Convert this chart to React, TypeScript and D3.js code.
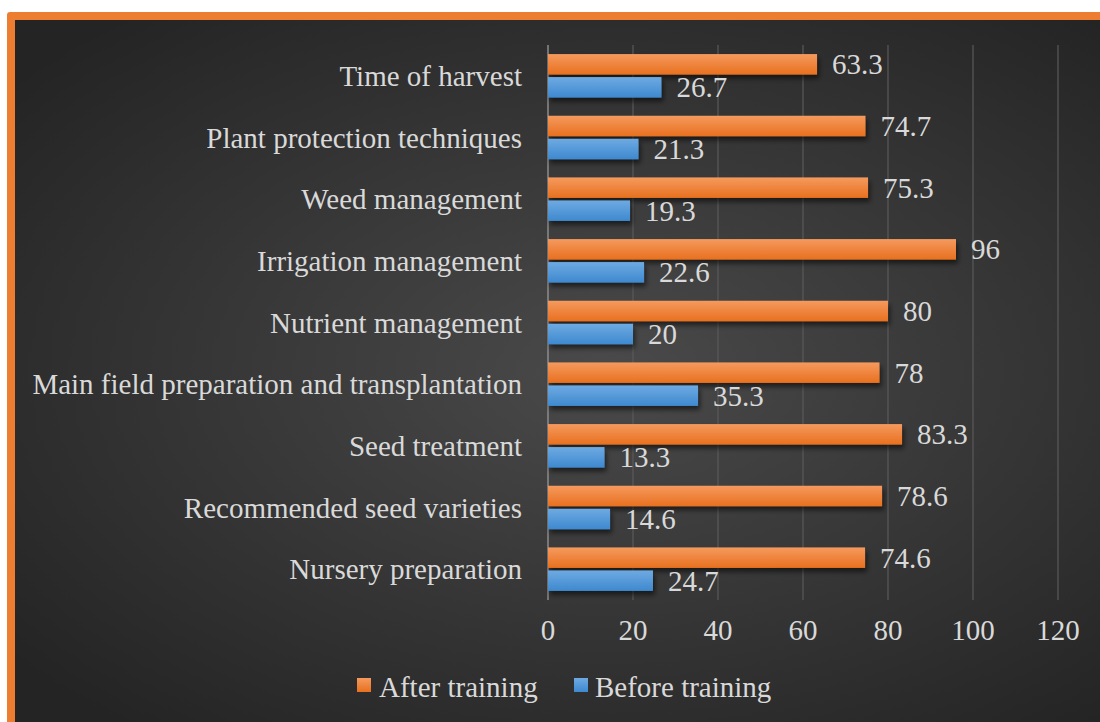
import React from "react";
import * as d3 from "d3";

const categories = [
  "Nursery preparation",
  "Recommended seed varieties",
  "Seed treatment",
  "Main field preparation and transplantation",
  "Nutrient management",
  "Irrigation management",
  "Weed management",
  "Plant protection techniques",
  "Time of harvest",
];
const afterTraining = [74.6, 78.6, 83.3, 78, 80, 96, 75.3, 74.7, 63.3];
const beforeTraining = [24.7, 14.6, 13.3, 35.3, 20, 22.6, 19.3, 21.3, 26.7];
const xTicks = [0, 20, 40, 60, 80, 100, 120];
const seriesNames = ["After training", "Before training"];

const W = 1100;
const H = 722;
const FONT = "'Liberation Serif', 'Times New Roman', serif";
const TEXT = "#d9d9d9";
const FS = 29;

export default function App() {
  const x = d3.scaleLinear().domain([0, 120]).range([548, 1058]);
  const y = d3
    .scaleBand<string>()
    .domain([...categories].reverse())
    .range([45, 600])
    .paddingInner(0)
    .paddingOuter(0);
  const bw = y.bandwidth();
  const barH = 20.5;
  const gap = 2.5;
  const groupH = barH * 2 + gap;
  const pad = (bw - groupH) / 2;

  return (
    <svg
      width={W}
      height={H}
      style={{ position: "absolute", left: 0, top: 0, display: "block" }}
      fontFamily={FONT}
    >
      <defs>
        <radialGradient id="bg" cx="50%" cy="50%" r="65%" gradientUnits="objectBoundingBox">
          <stop offset="0%" stopColor="#4a4a4a" />
          <stop offset="100%" stopColor="#242424" />
        </radialGradient>
        <linearGradient id="gOrange" x1="0" y1="0" x2="0" y2="1">
          <stop offset="0%" stopColor="#f59a5e" />
          <stop offset="100%" stopColor="#e8701f" />
        </linearGradient>
        <linearGradient id="gBlue" x1="0" y1="0" x2="0" y2="1">
          <stop offset="0%" stopColor="#6eaae2" />
          <stop offset="100%" stopColor="#3e89cf" />
        </linearGradient>
        <filter id="shadow" x="-10%" y="-30%" width="130%" height="190%">
          <feGaussianBlur in="SourceAlpha" stdDeviation="2.5" />
          <feOffset dx="2" dy="4" result="b" />
          <feComponentTransfer>
            <feFuncA type="linear" slope="0.55" />
          </feComponentTransfer>
          <feMerge>
            <feMergeNode />
            <feMergeNode in="SourceGraphic" />
          </feMerge>
        </filter>
      </defs>
      <rect x={0} y={0} width={W} height={H} fill="#ffffff" />
      <rect x={7} y={12} width={1200} height={800} rx={3} fill="#ed7d31" />
      <rect x={15} y={20} width={1185} height={702} fill="url(#bg)" />

      {/* gridlines */}
      {xTicks.slice(1).map((t) => (
        <line
          key={t}
          x1={x(t)}
          x2={x(t)}
          y1={45}
          y2={600}
          stroke="#5a5a5a"
          strokeWidth={1.2}
        />
      ))}
      <line x1={x(0)} x2={x(0)} y1={45} y2={600} stroke="#8c8c8c" strokeWidth={1.5} />

      {/* bars */}
      {categories.map((c, i) => {
        const y0 = (y(c) as number) + pad;
        return (
          <g key={c}>
            <rect
              x={x(0)}
              y={y0}
              width={x(afterTraining[i]) - x(0)}
              height={barH}
              fill="url(#gOrange)"
              filter="url(#shadow)"
            />
            <rect
              x={x(0)}
              y={y0 + barH + gap}
              width={x(beforeTraining[i]) - x(0)}
              height={barH}
              fill="url(#gBlue)"
              filter="url(#shadow)"
            />
            <text
              x={x(afterTraining[i]) + 15}
              y={y0 + barH / 2}
              dy="0.35em"
              fill={TEXT}
              fontSize={FS}
            >
              {afterTraining[i]}
            </text>
            <text
              x={x(beforeTraining[i]) + 15}
              y={y0 + barH + gap + barH / 2}
              dy="0.35em"
              fill={TEXT}
              fontSize={FS}
            >
              {beforeTraining[i]}
            </text>
            <text
              x={522}
              y={(y(c) as number) + bw / 2}
              dy="0.35em"
              textAnchor="end"
              fill={TEXT}
              fontSize={FS}
            >
              {c}
            </text>
          </g>
        );
      })}

      {/* x tick labels */}
      {xTicks.map((t) => (
        <text
          key={t}
          x={x(t)}
          y={630}
          dy="0.35em"
          textAnchor="middle"
          fill={TEXT}
          fontSize={FS}
        >
          {t}
        </text>
      ))}

      {/* legend */}
      <rect x={357} y={678} width={14} height={14} fill="url(#gOrange)" />
      <text x={379} y={687} dy="0.35em" fill={TEXT} fontSize={FS}>
        {seriesNames[0]}
      </text>
      <rect x={574} y={678} width={14} height={14} fill="url(#gBlue)" />
      <text x={595} y={687} dy="0.35em" fill={TEXT} fontSize={FS}>
        {seriesNames[1]}
      </text>
    </svg>
  );
}
